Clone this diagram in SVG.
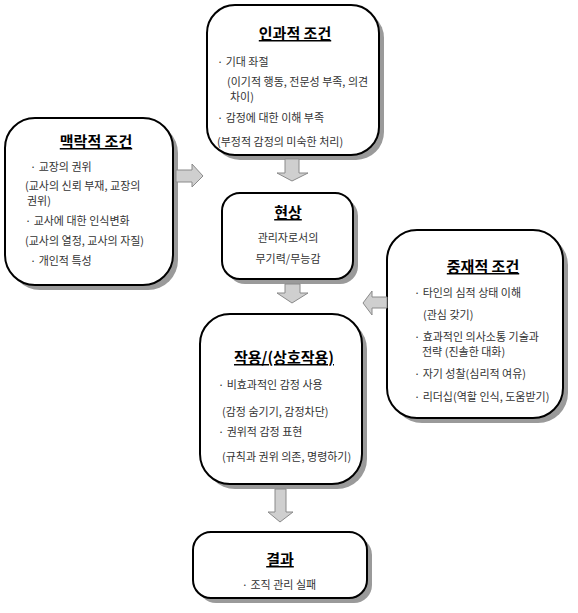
<svg xmlns="http://www.w3.org/2000/svg" width="578" height="613" viewBox="0 0 578 613">
<style>
.box{fill:#fff;stroke:#000;stroke-width:2}
.sh{fill:#9a9a9a}
.t{font-family:"Noto Sans CJK KR","Noto Sans",sans-serif;font-size:15px;font-weight:bold;fill:#000;text-anchor:middle;text-decoration:underline}
.b{font-family:"Noto Sans CJK KR","Noto Sans",sans-serif;font-size:11px;fill:#333}
.c{text-anchor:middle}
.arr{fill:#cfcfcf;stroke:#8a8a8a;stroke-width:1}
</style>
<rect width="578" height="613" fill="#fff"/>
<g id="causal">
<rect class="sh" x="212" y="10" width="172" height="150" rx="28"/>
<rect class="box" x="207" y="5" width="172" height="150" rx="28"/>
<text class="t" x="295" y="39">인과적 조건</text>
<text class="b" x="217" y="66">· 기대 좌절</text>
<text class="b" x="227" y="86">(이기적 행동, 전문성 부족, 의견</text>
<text class="b" x="230" y="101">차이)</text>
<text class="b" x="217" y="122">· 감정에 대한 이해 부족</text>
<text class="b" x="217" y="146">(부정적 감정의 미숙한 처리)</text>
</g>
<g id="context">
<rect class="sh" x="10" y="123" width="168" height="167" rx="30"/>
<rect class="box" x="5" y="118" width="168" height="167" rx="30"/>
<text class="t" x="96" y="147">맥락적 조건</text>
<text class="b" x="30" y="171">· 교장의 권위</text>
<text class="b" x="25" y="190">(교사의 신뢰 부재, 교장의</text>
<text class="b" x="27" y="205">권위)</text>
<text class="b" x="25" y="225">· 교사에 대한 인식변화</text>
<text class="b" x="25" y="245">(교사의 열정, 교사의 자질)</text>
<text class="b" x="30" y="265">· 개인적 특성</text>
</g>
<g id="phenomenon">
<rect class="sh" x="227" y="198" width="131" height="86" rx="18"/>
<rect class="box" x="222" y="193" width="131" height="86" rx="18"/>
<text class="t" x="288" y="218">현상</text>
<text class="b c" x="288" y="242">관리자로서의</text>
<text class="b c" x="288" y="263">무기력/무능감</text>
</g>
<g id="intervening">
<rect class="sh" x="392" y="235" width="176" height="188" rx="30"/>
<rect class="box" x="387" y="230" width="176" height="188" rx="30"/>
<text class="t" x="483" y="272">중재적 조건</text>
<text class="b" x="414" y="297">· 타인의 심적 상태 이해</text>
<text class="b" x="423" y="319">(관심 갖기)</text>
<text class="b" x="414" y="341">· 효과적인 의사소통 기술과</text>
<text class="b" x="422" y="356">전략 (진솔한 대화)</text>
<text class="b" x="414" y="378">· 자기 성찰(심리적 여유)</text>
<text class="b" x="414" y="401">· 리더십(역할 인식, 도움받기)</text>
</g>
<g id="action">
<rect class="sh" x="205" y="319" width="162" height="170" rx="30"/>
<rect class="box" x="200" y="314" width="162" height="170" rx="30"/>
<text class="t" x="284" y="363">작용/(상호작용)</text>
<text class="b" x="218" y="389">· 비효과적인 감정 사용</text>
<text class="b" x="222" y="416">(감정 숨기기, 감정차단)</text>
<text class="b" x="218" y="436">· 권위적 감정 표현</text>
<text class="b" x="222" y="461">(규칙과 권위 의존, 명령하기)</text>
</g>
<g id="result">
<rect class="sh" x="198" y="537" width="174" height="66" rx="18"/>
<rect class="box" x="193" y="532" width="174" height="66" rx="18"/>
<text class="t" x="280" y="565">결과</text>
<text class="b c" x="279" y="589">· 조직 관리 실패</text>
</g>
<g id="connectors">
<path class="arr" d="M285,159 H299 V173 H308 L292,181 L277,173 H285 Z"/>
<path class="arr" d="M285,284 H300 V293 H308 L292,303 L277,293 H285 Z"/>
<path class="arr" d="M275,489 H286 V512 H293 L280,522 L268,512 H275 Z"/>
<path class="arr" d="M176,170 H192 V164 L203,176 L192,187 V182 H176 Z"/>
<path class="arr" d="M387,297 H372 V291 L363,303 L372,315 V308 H387 Z"/>
</g>
</svg>
